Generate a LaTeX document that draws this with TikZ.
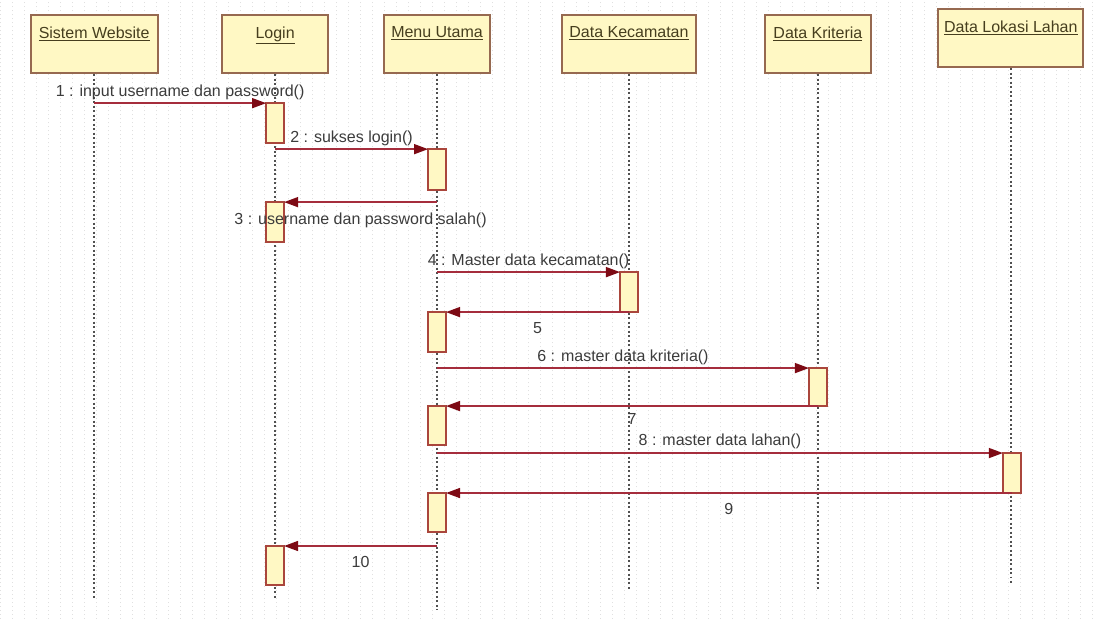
\documentclass[tikz,border=0pt]{standalone}
\usepackage{fontspec}
\setmainfont{Liberation Sans}
\usetikzlibrary{arrows.meta,shapes,positioning}

\definecolor{objfill}{RGB}{255,248,196}
\definecolor{objline}{RGB}{150,105,80}
\definecolor{actline}{RGB}{170,70,60}
\definecolor{objtext}{RGB}{70,62,30}
\definecolor{msgtext}{RGB}{60,60,60}
\definecolor{msgline}{RGB}{165,45,60}
\definecolor{arrowhead}{RGB}{125,10,20}
\definecolor{lifeline}{RGB}{80,80,80}

\begin{document}
\begin{tikzpicture}[x=1pt,y=-1pt,font=\fontsize{16}{18}\selectfont]
    \tikzstyle{obj}=[rectangle,draw=objline,fill=objfill,line width=2pt,inner sep=0pt]
    \tikzstyle{objlbl}=[anchor=north,yshift=-9pt,text=objtext]
    \tikzstyle{act}=[rectangle,draw=actline,fill=objfill,line width=1.5pt,minimum width=18pt,inner sep=0pt,outer sep=0pt,anchor=north]
    \tikzstyle{life}=[draw=lifeline,line width=2pt,dash pattern=on 2pt off 2.5pt]
    \tikzstyle{link}=[text=msgtext,inner sep=3pt]
    \tikzstyle{linkb}=[link,below,yshift=-7pt]   % label under a message

    \tikzstyle{every edge}=[draw=msgline,line width=1.5pt]
    \tikzstyle{msg}=[-{Triangle[length=14pt,width=10pt,color=arrowhead]}]

    % background
    \fill[white] (0,0) rectangle (1097,619);
    \draw[black!12,dash pattern=on 1pt off 3pt] (0,0) grid[step=12] (1097,619);
    \useasboundingbox (0,0) rectangle (1097,619);

    % objects
    \node[obj,minimum width=127pt,minimum height=58pt,label={[objlbl]north:\underline{Sistem Website}}] (sw) at (94,44) {};
    \node[obj,minimum width=106pt,minimum height=58pt,label={[objlbl]north:\underline{Login}}] (lg) at (275,44) {};
    \node[obj,minimum width=106pt,minimum height=58pt,label={[objlbl]north:\underline{Menu Utama}}] (mu) at (437,44) {};
    \node[obj,minimum width=135pt,minimum height=58pt,label={[objlbl]north:\underline{Data Kecamatan}}] (kc) at (629,44) {};
    \node[obj,minimum width=106pt,minimum height=58pt,label={[objlbl]north:\underline{Data Kriteria}}] (kr) at (818,44) {};
    \node[obj,minimum width=145pt,minimum height=58pt,label={[objlbl]north:\underline{Data Lokasi Lahan}}] (lh) at (1011,38) {};

    % lifelines
    \coordinate (swend) at (sw.south |- 0,600);
    \coordinate (lgend) at (lg.south |- 0,600);
    \coordinate (muend) at (mu.south |- 0,610);
    \coordinate (kcend) at (kc.south |- 0,590);
    \coordinate (krend) at (kr.south |- 0,590);
    \coordinate (lhend) at (lh.south |- 0,585);
    \draw[life] (sw.south) -- (swend);
    \draw[life] (lg.south) -- (lgend);
    \draw[life] (mu.south) -- (muend);
    \draw[life] (kc.south) -- (kcend);
    \draw[life] (kr.south) -- (krend);
    \draw[life] (lh.south) -- (lhend);

    % activations
    \node[act,minimum height=40pt] (lg1) at (275,103) {};
    \node[act,minimum height=41pt] (mu1) at (437,149) {};
    \node[act,minimum height=40pt] (lg2) at (275,202) {};
    \node[act,minimum height=40pt] (kc1) at (629,272) {};
    \node[act,minimum height=40pt] (mu2) at (437,312) {};
    \node[act,minimum height=38pt] (kr1) at (818,368) {};
    \node[act,minimum height=39pt] (mu3) at (437,406) {};
    \node[act,minimum height=40pt] (lh1) at (1012,453) {};
    \node[act,minimum height=39pt] (mu4) at (437,493) {};
    \node[act,minimum height=39pt] (lg3) at (275,546) {};

    % message sources on lifelines
    \coordinate (s1) at (94,103);
    \coordinate (s2) at (275,149);
    \coordinate (s3) at (437,202);
    \coordinate (s4) at (437,272);
    \coordinate (s6) at (437,368);
    \coordinate (s8) at (437,453);
    \coordinate (s10) at (437,546);

    % messages
    \path[msg] (s1) edge node[link,above] {1 : input username dan password()} (lg1.north west);
    \path[msg] (s2) edge node[link,above] {2 : sukses login()} (mu1.north west);
    \path[msg] (s3) edge node[linkb] {3 : username dan password salah()} (lg2.north east);
    \path[msg] (s4) edge node[link,above] {4 : Master data kecamatan()} (kc1.north west);
    \path[msg] (kc1.south) edge node[linkb] {5} (mu2.north east);
    \path[msg] (s6) edge node[link,above] {6 : master data kriteria()} (kr1.north west);
    \path[msg] (kr1.south) edge node[linkb,yshift=3pt] {7} (mu3.north east);
    \path[msg] (s8) edge node[link,above] {8 : master data lahan()} (lh1.north west);
    \path[msg] (lh1.south) edge node[linkb] {9} (mu4.north east);
    \path[msg] (s10) edge node[linkb] {10} (lg3.north east);
\end{tikzpicture}
\end{document}
